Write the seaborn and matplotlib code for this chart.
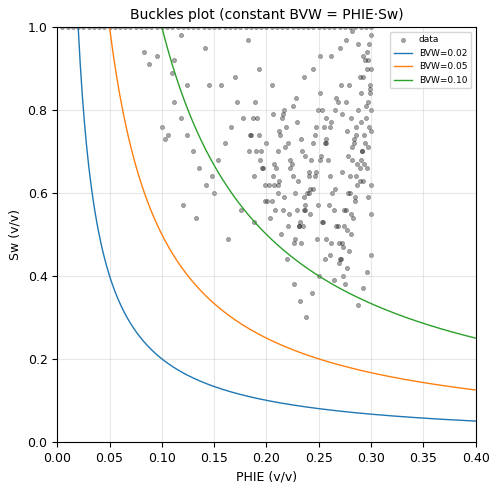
import matplotlib
matplotlib.use("Agg")
import matplotlib.pyplot as plt
import seaborn as sns
import numpy as np
import pandas as pd

# estimated data points (PHIE, Sw)
phie_pts = [
 0.01,0.02,0.03,0.04,0.05,0.06,0.07,0.08,0.09,0.10,0.11,0.12,0.13,0.14,0.15,0.16,0.17,0.18,0.19,0.20,
 0.21,0.22,0.23,0.24,0.25,0.26,0.27,0.28,0.29,0.30,0.295,0.285,0.275,0.265,0.255,0.245,0.235,0.225,0.215,0.205,
 0.195,0.185,0.175,0.165,0.155,0.145,0.135,0.125,0.115,0.105,0.095,0.085,0.075,0.065,0.055,0.045,0.035,0.025,0.015,0.005,
 0.083,0.103,0.095,0.088,0.112,0.124,0.110,0.118,0.141,0.145,0.157,0.170,0.182,0.193,0.205,0.216,0.228,0.236,0.245,0.251,
 0.262,0.270,0.276,0.282,0.288,0.292,0.296,0.299,0.300,0.298,0.294,0.290,0.286,0.280,0.274,0.268,0.262,0.256,0.250,0.244,
 0.238,0.232,0.226,0.220,0.214,0.208,0.202,0.196,0.190,0.184,0.178,0.172,0.166,0.160,0.154,0.148,0.142,0.136,0.130,0.124,
 0.118,0.112,0.106,0.100,0.120,0.133,0.150,0.163,0.176,0.188,0.199,0.211,0.223,0.234,0.246,0.257,0.268,0.279,0.289,0.297,
 0.300,0.299,0.297,0.295,0.293,0.291,0.289,0.287,0.285,0.283,0.281,0.279,0.277,0.275,0.273,0.271,0.269,0.267,0.265,0.263,
 0.261,0.259,0.257,0.255,0.253,0.251,0.249,0.247,0.245,0.243,0.241,0.239,0.237,0.235,0.233,0.231,0.229,0.227,0.225,0.223,
 0.221,0.219,0.217,0.215,0.213,0.211,0.209,0.207,0.205,0.203,0.201,0.199,0.197,0.195,0.193,0.191,0.189,0.187,0.185,0.183,
 0.300,0.298,0.296,0.294,0.292,0.290,0.288,0.286,0.284,0.282,0.280,0.278,0.276,0.274,0.272,0.270,0.300,0.297,0.293,0.289,
 0.285,0.281,0.277,0.273,0.269,0.265,0.261,0.257,0.253,0.249,0.245,0.241,0.237,0.233,0.229,0.225,0.300,0.296,0.291,0.286,
 0.281,0.276,0.271,0.266,0.261,0.256,0.251,0.246,0.241,0.236,0.231,0.226,0.221,0.216,0.211,0.206,0.299,0.295,0.290,0.284,
 0.278,0.272,0.266,0.260,0.254,0.248,0.242,0.236,0.230,0.224,0.218,0.212,0.206,0.200,0.194,0.188,0.300,0.297,0.292,0.287,
 0.282,0.277,0.272,0.267,0.262,0.257,0.252,0.247,0.242,0.237,0.232,0.227,0.222,0.217,0.212,0.207,0.300,0.296,0.292,0.288,
]
sw_pts = [
 1.0,1.0,1.0,1.0,1.0,1.0,1.0,1.0,1.0,1.0,1.0,1.0,1.0,1.0,1.0,1.0,1.0,1.0,1.0,1.0,
 1.0,1.0,1.0,1.0,1.0,1.0,1.0,1.0,1.0,1.0,1.0,1.0,1.0,1.0,1.0,1.0,1.0,1.0,1.0,1.0,
 1.0,1.0,1.0,1.0,1.0,1.0,1.0,1.0,1.0,1.0,1.0,1.0,1.0,1.0,1.0,1.0,1.0,1.0,1.0,1.0,
 0.94,0.73,0.93,0.91,0.92,0.86,0.89,0.98,0.95,0.86,0.86,0.88,0.97,0.90,0.86,0.79,0.83,0.88,0.90,0.93,
 0.93,0.95,0.97,0.99,0.96,0.93,0.90,0.84,0.80,0.76,0.72,0.68,0.64,0.60,0.56,0.52,0.48,0.44,0.40,0.36,
 0.30,0.34,0.38,0.44,0.50,0.56,0.62,0.66,0.70,0.74,0.78,0.82,0.76,0.72,0.68,0.64,0.62,0.66,0.70,0.74,
 0.78,0.82,0.74,0.76,0.57,0.54,0.60,0.49,0.56,0.53,0.58,0.62,0.66,0.70,0.74,0.78,0.82,0.86,0.88,0.92,
 0.90,0.86,0.82,0.78,0.74,0.70,0.66,0.62,0.58,0.54,0.50,0.46,0.42,0.38,0.40,0.44,0.48,0.52,0.56,0.60,
 0.64,0.68,0.72,0.76,0.80,0.84,0.80,0.76,0.72,0.68,0.64,0.60,0.56,0.52,0.48,0.52,0.56,0.60,0.64,0.68,
 0.72,0.76,0.80,0.78,0.74,0.70,0.66,0.62,0.58,0.54,0.58,0.62,0.66,0.70,0.74,0.78,0.82,0.78,0.74,0.70,
 0.98,0.96,0.94,0.92,0.88,0.84,0.80,0.76,0.72,0.68,0.64,0.60,0.56,0.52,0.48,0.44,0.75,0.71,0.67,0.63,
 0.59,0.55,0.51,0.47,0.43,0.39,0.45,0.49,0.53,0.57,0.61,0.65,0.69,0.73,0.77,0.81,0.62,0.66,0.70,0.74,
 0.78,0.82,0.86,0.80,0.76,0.72,0.68,0.64,0.60,0.56,0.52,0.48,0.52,0.56,0.60,0.64,0.85,0.81,0.77,0.73,
 0.69,0.65,0.61,0.57,0.53,0.49,0.55,0.59,0.63,0.67,0.71,0.75,0.79,0.72,0.68,0.64,0.55,0.59,0.63,0.67,
 0.71,0.75,0.79,0.83,0.77,0.73,0.69,0.65,0.61,0.57,0.53,0.49,0.55,0.59,0.63,0.67,0.45,0.41,0.37,0.33,
]

bvw_values = [0.02, 0.05, 0.10]
phie_grid = np.linspace(0.001, 0.40, 400)

plt.rcParams.update({"font.size": 9, "axes.titlesize": 10, "axes.labelsize": 9,
                     "xtick.labelsize": 9, "ytick.labelsize": 9})
fig, ax = plt.subplots(figsize=(4.98, 4.92), dpi=100)
df = pd.DataFrame({"PHIE": phie_pts, "Sw": sw_pts})
sns.scatterplot(data=df, x="PHIE", y="Sw", ax=ax, color="black", alpha=0.35, s=9,
                edgecolor="black", linewidth=0.5, label="data")
colors = ["#1f77b4", "#ff7f0e", "#2ca02c"]
for b, c in zip(bvw_values, colors):
    sw = np.clip(b / phie_grid, 0, 1)
    ax.plot(phie_grid, sw, color=c, lw=1, label=f"BVW={b:.2f}")
ax.set_xlim(0, 0.40)
ax.set_ylim(0, 1.0)
ax.set_xlabel("PHIE (v/v)")
ax.set_ylabel("Sw (v/v)")
ax.set_title("Buckles plot (constant BVW = PHIE·Sw)")
ax.grid(True, alpha=0.3)
ax.legend(loc="upper right", fontsize=6.5)
fig.subplots_adjust(left=0.115, right=0.955, bottom=0.102, top=0.945)
fig.savefig("out.png", dpi=100)
